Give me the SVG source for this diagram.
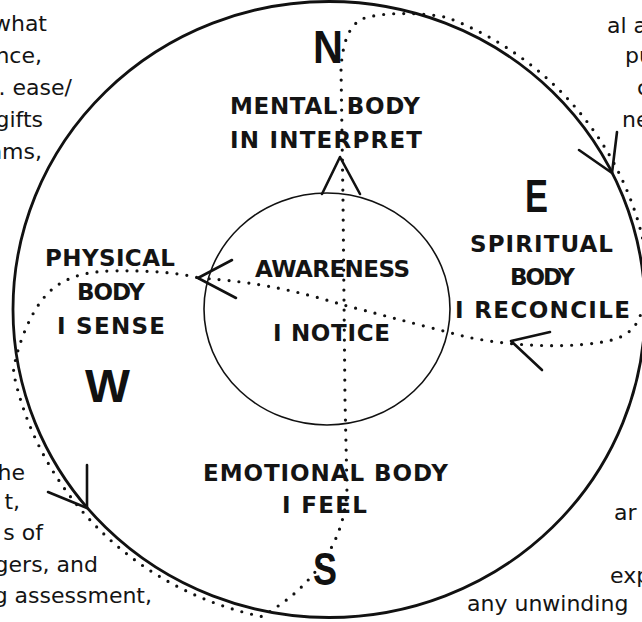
<svg xmlns="http://www.w3.org/2000/svg" width="642" height="622" viewBox="0 0 642 622">
<style>
.h{font-family:"DejaVu Sans","Liberation Sans",sans-serif;font-weight:bold;font-size:23px;fill:#141414;text-anchor:middle}
.c{font-family:"Liberation Sans","DejaVu Sans",sans-serif;font-weight:bold;font-size:46px;fill:#111;text-anchor:middle}
.p{font-family:"DejaVu Sans","Liberation Sans",sans-serif;font-size:22px;fill:#141414}
.pe{text-anchor:end}
.dots{fill:none;stroke:#111;stroke-width:3.2;stroke-linecap:round;stroke-dasharray:0 10}
.ah{fill:none;stroke:#111;stroke-width:2.6;stroke-linecap:round;stroke-linejoin:round}
</style>
<rect width="642" height="622" fill="#fff"/>
<g id="side-text">
<text class="p pe" x="47" y="31">what</text>
<text class="p pe" x="42" y="63">nce,</text>
<text class="p pe" x="72" y="95">. ease/</text>
<text class="p pe" x="43" y="127">gifts</text>
<text class="p pe" x="42" y="159">ams,</text>
<text class="p pe" x="25" y="480">the</text>
<text class="p pe" x="20" y="509">t,</text>
<text class="p pe" x="43" y="540">s of</text>
<text class="p pe" x="98" y="572">gers, and</text>
<text class="p pe" x="152" y="603">g assessment,</text>
<text class="p" x="607" y="33">al a</text>
<text class="p" x="625" y="63">pu</text>
<text class="p" x="637" y="95">c</text>
<text class="p" x="622" y="127">ne</text>
<text class="p" x="614" y="520">ar</text>
<text class="p" x="610" y="583">exp</text>
<text class="p" x="467" y="611">any unwinding</text>
</g>
<g id="outer-circle">
<ellipse cx="329" cy="309.5" rx="316" ry="308" fill="none" stroke="#111" stroke-width="2.8"/>
</g>
<g id="awareness">
<ellipse cx="327" cy="309" rx="123" ry="116" fill="none" stroke="#111" stroke-width="1.6"/>
<text class="h" x="332.5" y="277" textLength="155">AWARENESS</text>
<text class="h" x="331.5" y="341" textLength="117">I NOTICE</text>
</g>
<g id="mental-body">
<text class="c" x="328" y="63" font-size="48" textLength="30" lengthAdjust="spacingAndGlyphs">N</text>
<text class="h" x="325" y="114" textLength="190">MENTAL BODY</text>
<text class="h" x="326" y="148" textLength="192">IN INTERPRET</text>
</g>
<g id="spiritual-body">
<text class="c" x="536.5" y="212" font-size="45" textLength="23" lengthAdjust="spacingAndGlyphs">E</text>
<text class="h" x="541.5" y="252" textLength="143">SPIRITUAL</text>
<text class="h" x="542.5" y="285" textLength="65">BODY</text>
<text class="h" x="542.5" y="318" textLength="175">I RECONCILE</text>
</g>
<g id="physical-body">
<text class="h" x="110" y="266" textLength="130">PHYSICAL</text>
<text class="h" x="111" y="300" textLength="68">BODY</text>
<text class="h" x="111" y="334" textLength="108">I SENSE</text>
<text class="c" x="107.5" y="402" font-size="45" textLength="45" lengthAdjust="spacingAndGlyphs">W</text>
</g>
<g id="emotional-body">
<text class="h" x="325.5" y="481" textLength="245">EMOTIONAL BODY</text>
<text class="h" x="324.5" y="513" textLength="85">I FEEL</text>
<text class="c" x="325" y="585" font-size="45" textLength="24" lengthAdjust="spacingAndGlyphs">S</text>
</g>
<g id="connectors">
<path class="dots" d="M199,278 C260,282 300,292 340,304 C370,312 420,325 467,337 C520,348 580,348 612,340 C630,335 638,325 642,310 L650.4,290 A322,314 0 0,0 447,17.4 C420,12 380,12 362,19 C350,25 343,40 341,68 L343,200 L345,400 L347,488 C346,520 335,550 310,578 C296,594 282,604 262,616.6 A322,314 0 0,1 13.4,372 C16,350 28,318 42,300 C55,283 75,272 110,271 C150,270 180,273 199,278"/>
<path class="ah" d="M232,260 L198,278 L236,298"/>
<path class="ah" d="M550,332 L511,341 L542,370"/>
<path class="ah" d="M322,194 L340,157 L360,194"/>
<path class="ah" d="M617,132 L612,173 L579,150"/>
<path class="ah" d="M87,465 L87,508 L48,492"/>
</g>
</svg>
